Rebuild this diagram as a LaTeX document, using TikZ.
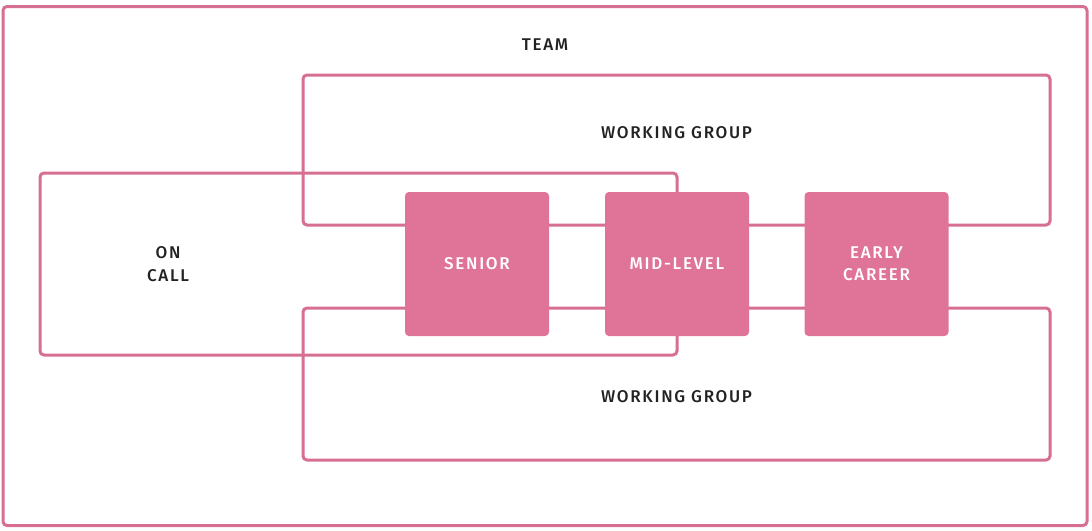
\documentclass[tikz,border=0pt]{standalone}
\usepackage{fontspec}
\setmainfont{Fira Sans}[LetterSpace=10, BoldFont={Fira Sans Medium}]
\usepackage{tikz}
\usetikzlibrary{positioning}
\definecolor{teamline}{HTML}{D66F91}
\definecolor{teamfill}{HTML}{E07498}
\definecolor{teamtext}{HTML}{222222}

\tikzset{
    groupbox/.style={draw=teamline, line width=3pt, rounded corners=4pt, minimum width=#1},
    rolebox/.style={fill=teamfill, rounded corners=4pt, minimum width=144pt, minimum height=144pt,
        text=white, font=\fontsize{17}{22}\bfseries, align=center, inner sep=0pt},
    grouplabel/.style={text=teamtext, font=\fontsize{17}{23}\bfseries, align=center}
}

\begin{document}
\begin{tikzpicture}[x=1pt, y=-1pt]
    \useasboundingbox (0,0) rectangle (1092,530);

    % outer frame and the groups
    \node[groupbox=1084pt, minimum height=519pt] (team) at (545,266) {};
    \node[groupbox=747pt, minimum height=150pt] (wgtop) at (676.5,150) {};
    \node[groupbox=747pt, minimum height=152pt] (wgbot) at (676.5,384) {};
    \node[groupbox=637pt, minimum height=182pt] (oncall) at (358.5,264) {};

    % roles
    \node[rolebox] (senior) at (477,264) {SENIOR};
    \node[rolebox] (mid) at (677,264) {MID-LEVEL};
    \node[rolebox] (early) at (876.5,264) {EARLY\\CAREER};

    % labels
    \node[grouplabel] (teamlbl) at (545,45) {TEAM};
    \node[grouplabel] (wgtoplbl) at (676.5,133) {WORKING GROUP};
    \node[grouplabel] (wgbotlbl) at (676.5,397) {WORKING GROUP};
    \node[grouplabel] (oncalllbl) at (168,264) {ON\\CALL};
\end{tikzpicture}
\end{document}
